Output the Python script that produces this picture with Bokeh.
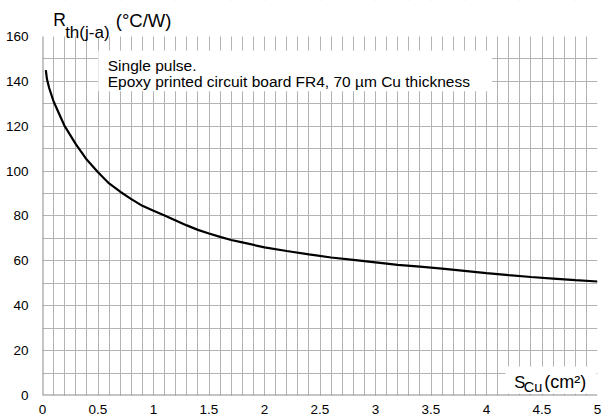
from bokeh.plotting import figure
from bokeh.models import FixedTicker, Label, Range1d
from bokeh.embed import file_html
from bokeh.resources import INLINE

# Curve data: copper area (cm²) vs thermal resistance (°C/W)
s_cu = [0.03, 0.04, 0.06, 0.1, 0.2, 0.3, 0.4, 0.5, 0.6, 0.7, 0.8, 0.9, 1.0,
        1.1, 1.2, 1.3, 1.4, 1.5, 1.6, 1.7, 1.8, 2.0, 2.2, 2.4, 2.6, 2.8, 3.0,
        3.2, 3.4, 3.6, 3.8, 4.0, 4.2, 4.4, 4.6, 4.8, 5.0]
rth = [145, 141, 137, 131, 120, 112, 105, 99.5, 94.5, 90.8, 87.5, 84.5, 82.3,
       80.2, 78, 75.8, 73.8, 72.2, 70.7, 69.3, 68.2, 66, 64.4, 62.9, 61.5, 60.4, 59.3,
       58.2, 57.4, 56.5, 55.5, 54.5, 53.6, 52.8, 52.1, 51.4, 50.8]

x_ticks = [0, 0.5, 1, 1.5, 2, 2.5, 3, 3.5, 4, 4.5, 5]
x_tick_labels = ["0", "0.5", "1", "1.5", "2", "2.5", "3", "3.5", "4", "4.5", "5"]
y_ticks = [0, 20, 40, 60, 80, 100, 120, 140, 160]
x_grid = [round(0.1 * i, 1) for i in range(1, 51)]
y_grid = [10 * i for i in range(1, 16)]

FONT = "Liberation Sans"
Y_TOP = 176  # room above the 160 line for the axis title

p = figure(width=611, height=418, output_backend="svg", toolbar_location=None,
           x_range=Range1d(0, 5), y_range=Range1d(0, Y_TOP),
           min_border_left=42, min_border_right=14, min_border_top=0, min_border_bottom=23)
p.outline_line_color = None
p.background_fill_color = "white"

p.xaxis.ticker = FixedTicker(ticks=x_ticks)
p.xaxis.major_label_overrides = {t: l for t, l in zip(x_ticks, x_tick_labels)}
p.yaxis.ticker = FixedTicker(ticks=y_ticks)
for ax in (p.xaxis, p.yaxis):
    ax.axis_line_color = None
    ax.major_tick_line_color = None
    ax.minor_tick_line_color = None
    ax.major_label_text_font = FONT
    ax.major_label_text_font_size = "13.5px"
    ax.major_label_text_color = "black"
p.xaxis.major_label_standoff = 3
p.yaxis.major_label_standoff = 8

p.xgrid.ticker = FixedTicker(ticks=x_grid)
p.ygrid.ticker = FixedTicker(ticks=y_grid)
p.xgrid.grid_line_color = "#b3b3b3"
p.ygrid.grid_line_color = "#b3b3b3"
p.xgrid.grid_line_width = 1
p.ygrid.grid_line_width = 1

# mask the grid above the 160 line
p.quad(left=[0], right=[5], bottom=[160], top=[Y_TOP], fill_color="white", line_color=None)

# axis lines
p.line([0, 0], [0, 160], line_color="#8c8c8c", line_width=2)
p.line([0, 5], [0, 0], line_color="#8c8c8c", line_width=2)

# white boxes behind the texts
p.quad(left=[0.503], right=[4.05], bottom=[135.6], top=[153.7],
       fill_color="white", line_color=None)
p.quad(left=[4.17], right=[4.99], bottom=[0.8], top=[12.9],
       fill_color="white", line_color=None)

p.line(s_cu, rth, line_color="black", line_width=2.2)

def lab(x, y, t, size):
    p.add_layout(Label(x=x, y=y, text=t, text_font=FONT, text_font_size=size,
                       text_color="black", text_baseline="alphabetic", text_align="left"))

lab(0.588, 146.9, "Single pulse.", "15.5px")
lab(0.588, 139.7, "Epoxy printed circuit board FR4, 70 µm Cu thickness", "15.5px")

lab(0.096, 167.2, "R", "17.5px")
lab(0.204, 161.6, "th(j-a)", "17px")
lab(0.660, 167.2, "(°C/W)", "18.5px")

lab(4.25, 6.0, "S", "16.5px")
lab(4.335, 3.8, "Cu", "14.5px")
lab(4.52, 6.0, "(cm²)", "18px")

open("out.html", "w").write(file_html(p, INLINE))
